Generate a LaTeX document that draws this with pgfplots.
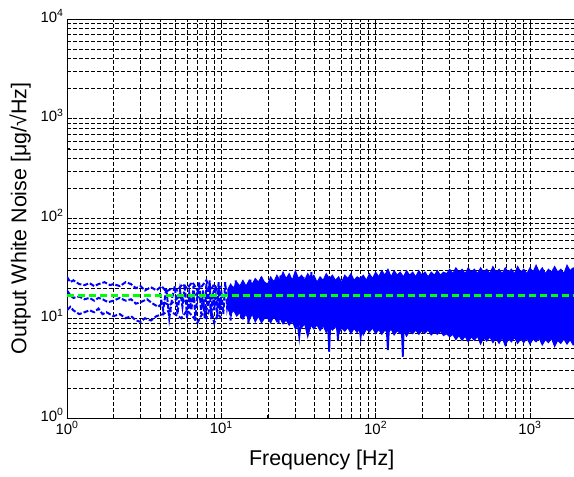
\documentclass[border=0pt]{standalone}
\usepackage{fontspec}
\setmainfont{Liberation Sans}
\usepackage{pgfplots}
\usepackage{pgfplotstable}
\usepgfplotslibrary{fillbetween}
\pgfplotsset{compat=1.18}

\pgfplotstableread{
x up lo
10.96 19 12.5
11.48 22 11
12.02 20 12
12.59 23 10.5
13.18 21 11.5
13.80 24 9.8
14.45 21 11
15.14 24 9.5
15.85 22 11
16.60 25 9.2
17.38 23 10.5
18.20 26 9.0
19.05 23 10
19.95 22 10
20.89 26 9.0
21.88 23 10.5
22.91 27 9.2
23.99 24 10
25.12 29 8.8
26.30 25 9.6
27.54 28 8.5
28.84 24 9.4
30.20 30 7.8
31.62 25 8.9
33.11 27 8.0
34.67 24 8.8
36.31 28 6.5
38.02 25 8.5
39.81 27 7.8
41.69 23 8.6
43.65 26 7.5
45.71 24 8.4
47.86 28 7.2
50.12 25 8.2
52.48 27 7.6
54.95 24 8.3
57.54 26 7.0
60.26 23 8.0
63.10 27 7.4
66.07 25 8.1
69.18 28 7.0
72.44 24 7.9
75.86 26 7.2
79.43 25 8.0
83.18 27 6.8
87.10 24 7.8
91.20 28 7.3
95.50 25 8.0
100.0 29 7.0
104.7 26 7.7
109.6 30 6.9
114.8 27 7.6
120.2 31 7.1
125.9 26 7.8
131.8 30 6.8
138.0 27 7.5
144.5 29 7.0
151.4 26 7.7
158.5 30 6.6
166.0 27 7.4
173.8 29 7.0
182.0 26 7.6
190.5 30 6.9
199.5 27 7.5
208.9 29 7.1
218.8 26 7.6
229.1 29 6.8
239.9 27 7.3
251.2 30 6.9
263.0 27 7.4
275.4 29 6.7
288.4 28 7.0
302.0 31 6.5
316.2 28 6.9
331.1 32 6.1
346.7 29 6.7
363.1 31 6.0
380.2 28 6.6
398.1 32 5.8
416.9 29 6.5
436.5 31 6.0
457.1 28 6.6
478.6 32 5.5
501.2 29 6.4
524.8 31 5.9
549.5 28 6.5
575.4 33 5.7
602.6 29 6.3
631.0 31 5.6
660.7 28 6.4
691.8 32 5.3
724.4 29 6.2
758.6 31 5.8
794.3 28 6.4
831.8 33 5.6
871.0 29 6.2
912.0 31 5.7
955.0 28 6.3
1000 32 5.5
1047 29 6.2
1096 34 5.8
1148 29 6.3
1202 32 5.4
1259 28 6.1
1318 31 5.7
1380 29 6.3
1445 33 5.2
1514 29 6.0
1585 31 5.6
1660 28 6.2
1738 34 5.5
1820 30 6.1
1905 32 5.4
1995 29 6.0
2000 30 6.0
}\band

\begin{document}
\begin{tikzpicture}
\begin{axis}[
  name=ax,
  at={(67bp,59bp)}, anchor=south west,
  scale only axis, width=509.4bp, height=399bp,
  xmode=log, ymode=log,
  xmin=1, xmax=2000, ymin=1, ymax=10000,
  xtick={1,10,100,1000},
  xticklabels={10\textsuperscript{0},10\textsuperscript{1},10\textsuperscript{2},10\textsuperscript{3}},
  ytick={1,10,100,1000,10000},
  yticklabels={10\textsuperscript{0},10\textsuperscript{1},10\textsuperscript{2},10\textsuperscript{3},10\textsuperscript{4}},
  minor xtick={2,3,4,5,6,7,8,9,20,30,40,50,60,70,80,90,200,300,400,500,600,700,800,900,2000},
  minor ytick={2,3,4,5,6,7,8,9,20,30,40,50,60,70,80,90,200,300,400,500,600,700,800,900,2000,3000,4000,5000,6000,7000,8000,9000},
  grid=both,
  major grid style={black, line width=0.5bp, dash pattern=on 3.5bp off 2.5bp},
  minor grid style={black, line width=0.5bp, dash pattern=on 3.5bp off 2.5bp},
  tick style={black, line width=0.6bp},
  major tick length=5bp, minor tick length=3bp,
  axis line style={line width=0.8bp},
  ticklabel style={font=\fontsize{15}{15}\selectfont},
  yticklabel style={yshift=3bp},
  xlabel={Frequency [Hz]},
  ylabel={Output White Noise [μg/√Hz]},
  label style={font=\fontsize{21.5}{22}\selectfont},
  ylabel style={at={(axis description cs:-0.092,0.5)}, anchor=center},
  xlabel style={at={(axis description cs:0.5,-0.105)}, anchor=center},
]
% band of dense noise
\addplot[name path=U, blue, line width=1bp] table[x=x, y=up] {\band};
\addplot[name path=L, blue, line width=1bp] table[x=x, y=lo] {\band};
\addplot[blue] fill between[of=U and L];

% low frequency strands
\addplot[blue, line width=2bp, dash pattern=on 5bp off 2bp] coordinates {
(1.0,26)(1.05,23)(1.1,24)(1.2,22)(1.3,21.5)(1.4,22.5)(1.5,21)(1.6,22)(1.75,23)(1.9,21.5)(2.0,22)(2.2,21)(2.4,23)(2.6,22)(2.8,20)(3.0,21)(3.2,19)(3.5,20.5)(3.8,19)(4.1,21)(4.4,18.5)(4.8,20)(5.2,19)(5.6,22)(6.0,20)(6.5,23)(7.0,19)(7.5,21)(8.0,24)(8.5,19)(9.0,22)(9.5,18)(10,21)};
\addplot[blue, line width=2bp, dash pattern=on 5bp off 2bp] coordinates {
(1.0,19)(1.05,17)(1.1,16)(1.2,16.5)(1.3,15.5)(1.4,16)(1.5,15)(1.6,16)(1.7,15.5)(1.85,14.5)(2.0,15)(2.2,16)(2.4,15)(2.6,15.5)(2.8,14)(3.0,14.5)(3.3,15.5)(3.6,14)(3.9,13)(4.2,14.5)(4.6,13.5)(5.0,15)(5.4,17)(5.8,15)(6.2,13)(6.6,16)(7.0,18)(7.5,14)(8.0,12)(8.5,16)(9.0,19)(9.5,13)(10,15)};
\addplot[blue, line width=2bp, dash pattern=on 5bp off 2bp] coordinates {
(1.0,12)(1.05,13)(1.1,12)(1.2,11)(1.3,11.5)(1.4,12)(1.5,11.5)(1.6,12.5)(1.7,11)(1.8,11.5)(2.0,10.5)(2.2,11)(2.4,10)(2.6,10.5)(2.8,9.5)(3.0,9.2)(3.2,10)(3.5,9.5)(3.8,10.5)(4.2,11)(4.6,12)(5.0,11)(5.5,10)(6.0,12)(6.5,10.5)(7.0,9)(7.5,11)(8.0,10)(8.5,13)(9.0,9)(9.5,11)(10,10)};
% transition zigzag 4-40 Hz
\addplot[blue, line width=2bp, dash pattern=on 5bp off 2bp] coordinates {
(4.0,18)(4.2,12)(4.4,20)(4.6,10)(4.8,16)(5.0,21)(5.2,11)(5.4,19)(5.6,13)(5.8,22)(6.0,10)(6.2,18)(6.4,12)(6.6,21)(6.8,9.5)(7.0,17)(7.2,23)(7.4,11)(7.6,19)(7.8,10)(8.0,22)(8.2,13)(8.4,24)(8.6,9.8)(8.8,18)(9.0,12)(9.2,21)(9.4,10)(9.6,23)(9.8,11)
(10.0,19)(10.3,11)(10.6,23)(10.9,13)(11.2,17)(11.5,9.5)(11.8,21)(12.1,12)(12.4,24)(12.7,14)(13.0,16)(13.4,10)(13.8,22)(14.2,12.5)(14.6,20)(15.0,9)(15.4,25)(15.8,13)(16.2,18)(16.7,10.5)(17.2,23)(17.7,11)(18.2,26)(18.7,14)(19.2,19)(19.8,9.8)(20.4,22)(21.0,12)(21.6,24)(22.2,10)(22.8,20)(23.5,8.8)(24.2,27)(24.9,13)(25.6,21)(26.3,10)(27.1,25)(27.9,11.5)(28.7,23)(29.5,9.5)(30.4,28)(31.3,12)(32.2,22)(33.1,8.5)(34.1,26)(35.1,11)(36.1,24)(37.2,9)(38.3,29)(39.4,12)(40.5,25)};
% downward spikes
\addplot[blue, line width=1.8bp] coordinates {(49,10)(50,4.6)(51,10)};
\addplot[blue, line width=1.8bp] coordinates {(117,10)(120,4.8)(123,10)};
\addplot[blue, line width=1.8bp] coordinates {(147,10)(150,4.1)(153,10)};
\addplot[blue, line width=1.8bp] coordinates {(31,10)(32,6.5)(33,10)};
\addplot[blue, line width=1.8bp] coordinates {(56,9)(57,6.0)(58,9)};
\addplot[blue, line width=1.8bp] coordinates {(78,9)(80,6.5)(82,9)};
% mean level
\addplot[color={rgb,255:red,0;green,255;blue,0}, line width=2.5bp, dash pattern=on 7bp off 4bp] coordinates {(1,17)(2000,17)};
\end{axis}
\pgfresetboundingbox
\path ([xshift=-67bp,yshift=-59bp]ax.south west) rectangle ([xshift=-2.4bp,yshift=19bp]ax.north east);
\end{tikzpicture}
\end{document}
